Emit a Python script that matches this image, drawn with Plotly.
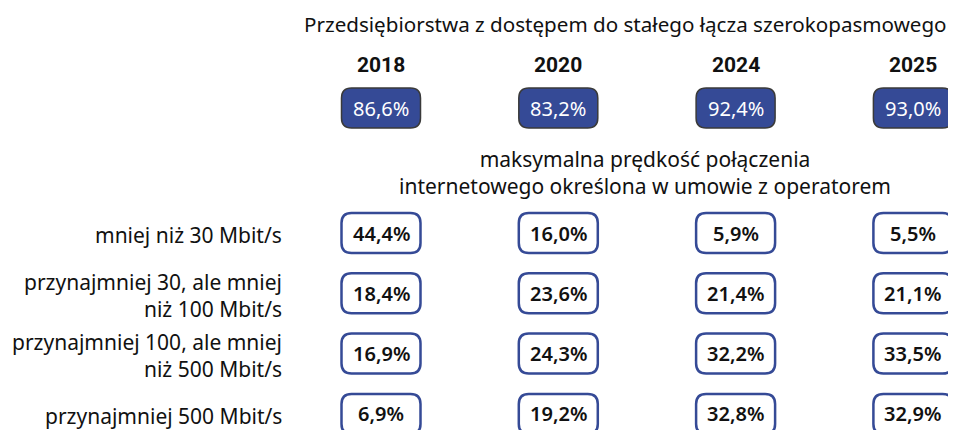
import plotly.graph_objects as go

# ---- data ----
years = ["2018", "2020", "2024", "2025"]
access_share = [86.6, 83.2, 92.4, 93.0]
speed_categories = [
    "mniej niż 30 Mbit/s",
    "przynajmniej 30, ale mniej<br>niż 100 Mbit/s",
    "przynajmniej 100, ale mniej<br>niż 500 Mbit/s",
    "przynajmniej 500 Mbit/s",
]
below_30 = [44.4, 16.0, 5.9, 5.5]
from_30_to_100 = [18.4, 23.6, 21.4, 21.1]
from_100_to_500 = [16.9, 24.3, 32.2, 33.5]
at_least_500 = [6.9, 19.2, 32.8, 32.9]
speed_rows = [below_30, from_30_to_100, from_100_to_500, at_least_500]

title_text = "Przedsiębiorstwa z dostępem do stałego łącza szerokopasmowego"
subtitle_text = "maksymalna prędkość połączenia<br>internetowego określona w umowie z operatorem"

# ---- layout constants (page pixel space; page body has 8px margin) ----
W, H = 956, 430
OFF = 8
FONT = "Noto Sans"
BOLD_FONT = "Roboto"
BLUE = "#354a96"
col_x0, col_dx = 381, 177.3
box_w, box_h, radius = 79, 40, 10
top_box_y = 108
row_y0, row_dy = 233, 60.3
label_x = 284


def fmt(v):
    return f"{v:.1f}".replace(".", ",") + "%"


def rounded_rect(cx, cy, w, h, r):
    x0, x1 = cx - w / 2, cx + w / 2
    y0, y1 = cy - h / 2, cy + h / 2
    return (
        f"M{x0 + r},{y0} L{x1 - r},{y0} Q{x1},{y0} {x1},{y0 + r} "
        f"L{x1},{y1 - r} Q{x1},{y1} {x1 - r},{y1} L{x0 + r},{y1} "
        f"Q{x0},{y1} {x0},{y1 - r} L{x0},{y0 + r} Q{x0},{y0} {x0 + r},{y0} Z"
    )


fig = go.Figure()
shapes, annotations = [], []

annotations.append(dict(x=625, y=24, text=title_text, showarrow=False,
                        xanchor="center", yanchor="middle",
                        font=dict(family=FONT, size=20.6, color="#111")))
annotations.append(dict(x=645, y=172, text=subtitle_text, showarrow=False,
                        xanchor="center", yanchor="middle",
                        font=dict(family=FONT, size=21, color="#111")))

for i, (yr, val) in enumerate(zip(years, access_share)):
    cx = col_x0 + i * col_dx
    annotations.append(dict(x=cx, y=65, text=f"<b>{yr}</b>", showarrow=False,
                            xanchor="center", yanchor="middle",
                            font=dict(family=BOLD_FONT, size=21, color="#111")))
    shapes.append(dict(type="path", xref="x", yref="y",
                       path=rounded_rect(cx, top_box_y, box_w, box_h, radius),
                       fillcolor=BLUE, line=dict(color="#3a3a3a", width=1.5)))
    annotations.append(dict(x=cx, y=top_box_y, text=fmt(val), showarrow=False,
                            xanchor="center", yanchor="middle",
                            font=dict(family=FONT, size=20, color="white")))

for r, (cat, vals) in enumerate(zip(speed_categories, speed_rows)):
    cy = row_y0 + r * row_dy
    annotations.append(dict(x=label_x, y=cy + 2, text=cat, showarrow=False,
                            xanchor="right", yanchor="middle", align="right",
                            font=dict(family=FONT, size=21, color="#111")))
    for i, v in enumerate(vals):
        cx = col_x0 + i * col_dx
        shapes.append(dict(type="path", xref="x", yref="y",
                           path=rounded_rect(cx, cy, box_w, box_h, radius),
                           fillcolor="white", line=dict(color=BLUE, width=2.5)))
        annotations.append(dict(x=cx, y=cy, text=fmt(v), showarrow=False,
                                xanchor="center", yanchor="middle",
                                font=dict(family=FONT, size=20, color="#111",
                                          weight=600)))

fig.update_layout(
    width=W, height=H, margin=dict(l=0, r=0, t=0, b=0),
    paper_bgcolor="white", plot_bgcolor="white",
    xaxis=dict(range=[OFF, W + OFF], visible=False, fixedrange=True),
    yaxis=dict(range=[H + OFF, OFF], visible=False, fixedrange=True),
    shapes=shapes, annotations=annotations, showlegend=False,
)

fig.write_html("out.html")
